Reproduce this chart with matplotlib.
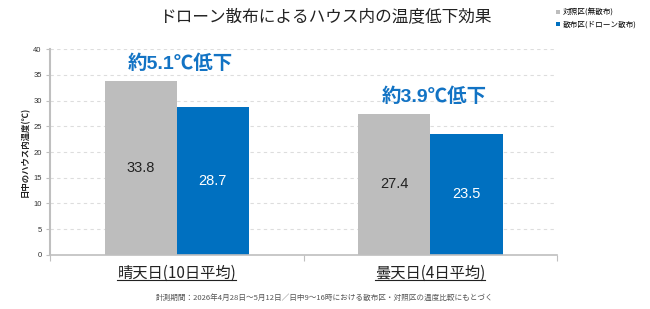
import matplotlib
matplotlib.use('Agg')
import matplotlib.pyplot as plt
import numpy as np

plt.rcParams['font.family'] = ['Noto Sans CJK JP', 'DejaVu Sans']
latin = ['Liberation Sans', 'Noto Sans CJK JP']

categories = ['晴天日(10日平均)', '曇天日(4日平均)']
control = [33.8, 27.4]
sprayed = [28.7, 23.5]
diff_labels = ['約5.1℃低下', '約3.9℃低下']
series_names = ['対照区(無散布)', '散布区(ドローン散布)']
yticks = [0, 5, 10, 15, 20, 25, 30, 35, 40]

gray = '#BDBDBD'
blue = '#0070C0'

fig = plt.figure(figsize=(6.5, 3.09), dpi=100)
ax = fig.add_axes([0.077, 0.175, 0.78, 0.666])

x = np.arange(len(categories))
w = 0.285
b1 = ax.bar(x - w/2, control, w, color=gray, label=series_names[0], zorder=2)
b2 = ax.bar(x + w/2, sprayed, w, color=blue, label=series_names[1], zorder=2)

for i in range(len(categories)):
    ax.text(x[i] - w/2, control[i]/2, f'{control[i]:.1f}', ha='center', va='center',
            fontsize=10.5, color='#222222', zorder=3, family=latin)
    ax.text(x[i] + w/2, sprayed[i]/2, f'{sprayed[i]:.1f}', ha='center', va='center',
            fontsize=10.5, color='white', zorder=3, family=latin)
    ax.text(x[i] + 0.015, control[i] + 1.5, diff_labels[i], ha='center', va='bottom',
            fontsize=14, fontweight='bold', color='#1273C4', zorder=3, family=latin)

ax.set_xlim(-0.5, 1.5)
ax.set_ylim(0, 40)
ax.set_yticks(yticks)
ax.tick_params(axis='y', labelsize=5.5, length=3, color='#BFBFBF', pad=3, labelcolor='#333333')
for lab in ax.get_yticklabels():
    lab.set_family(latin)
ax.set_xticks([-0.5, 0.5, 1.5])
ax.set_xticklabels([])
ax.tick_params(axis='x', length=4, color='#BFBFBF', direction='out')
ax.grid(axis='y', linestyle=(0, (3, 3)), color='#DDDDDD', linewidth=0.8, zorder=0)
for s in ['top', 'right']:
    ax.spines[s].set_visible(False)
ax.spines['left'].set_color('#BFBFBF')
ax.spines['left'].set_linewidth(1.5)
ax.spines['bottom'].set_color('#BFBFBF')
ax.spines['bottom'].set_linewidth(1.2)

ax.set_ylabel('日中のハウス内温度(℃)', fontsize=6, fontweight='bold', labelpad=2, color='#222222')

cat_texts = []
for i, c in enumerate(categories):
    t = ax.text(x[i], -0.05, c, transform=ax.get_xaxis_transform(), ha='center', va='top',
                fontsize=11, color='#222222')
    cat_texts.append(t)

fig.text(0.5, 0.945, 'ドローン散布によるハウス内の温度低下効果', ha='center', va='center',
         fontsize=12, color='#222222')
fig.text(0.5, 0.035, '計測期間：2026年4月28日～5月12日／日中9～16時における散布区・対照区の温度比較にもとづく',
         ha='center', va='center', fontsize=5.5, color='#555555')

leg = fig.legend(handles=[b1, b2], loc='upper left', bbox_to_anchor=(0.845, 0.995),
                 frameon=False, fontsize=5.5, handlelength=0.5, handleheight=0.5,
                 handletextpad=0.3, labelspacing=0.6)

# underline category labels
fig.canvas.draw()
r = fig.canvas.get_renderer()
inv = ax.transAxes.inverted()
for t in cat_texts:
    bb = t.get_window_extent(renderer=r)
    (x0, y0), (x1, y1) = inv.transform([[bb.x0, bb.y0], [bb.x1, bb.y1]])
    yl = y0 + 0.01
    ax.plot([x0, x1], [yl, yl], transform=ax.transAxes, color='#222222',
            linewidth=0.8, clip_on=False)

fig.savefig('out.png', dpi=100)
